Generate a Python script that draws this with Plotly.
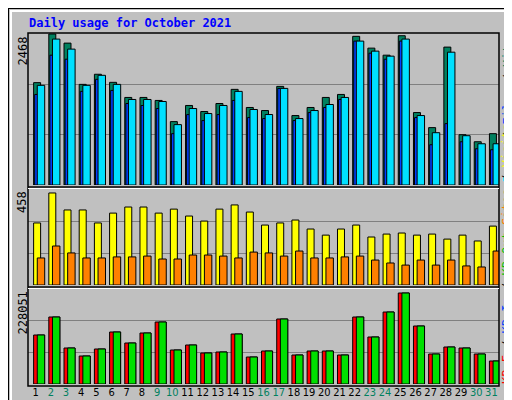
import plotly.graph_objects as go

days = list(range(1, 32))
weekend = [2, 3, 9, 10, 16, 17, 23, 24, 30, 31]
hits = [1673, 2468, 2319, 1645, 1810, 1678, 1431, 1431, 1382, 1036, 1300, 1201, 1332, 1563, 1267, 1217,
        1612, 1135, 1267, 1431, 1480, 2430, 2237, 2122, 2440, 1184, 938, 2254, 822, 707, 839]
files = [1629, 2385, 2221, 1629, 1793, 1645, 1398, 1398, 1365, 987, 1250, 1168, 1300, 1530, 1234, 1152,
         1579, 1086, 1217, 1316, 1431, 2352, 2188, 2106, 2385, 1135, 855, 2171, 806, 674, 674]
pages = [1480, 2122, 2056, 1530, 1727, 1546, 1332, 1300, 1250, 839, 1151, 1053, 1151, 1382, 1102, 1086,
         1579, 1053, 1184, 1267, 1398, 2352, 2155, 2056, 2352, 1102, 658, 1003, 707, 592, 576]
visits = [296, 439, 358, 358, 296, 343, 372, 372, 343, 362, 329, 305, 362, 382, 348, 286,
          296, 310, 267, 238, 267, 286, 229, 243, 248, 238, 243, 219, 238, 210, 281]
sites = [129, 186, 153, 129, 129, 134, 134, 138, 124, 124, 143, 143, 138, 129, 157, 153,
         138, 162, 129, 129, 134, 138, 119, 105, 95, 119, 95, 119, 91, 86, 162]
kbytes = [117600, 160800, 86400, 67200, 84000, 124800, 98400, 122400, 148800, 81600, 93600, 74400, 76800,
          120000, 64800, 79200, 156000, 69600, 79200, 79200, 69600, 160800, 112800, 172800, 218400,
          139200, 72000, 88800, 86400, 72000, 55200]
max_hits, max_visits, max_kb = 2468, 458, 228051

W, H = 512, 400
def py(p):
    return 1 - p / H

FONT = "DejaVu Sans Mono"
fig = go.Figure()
line = dict(color="black", width=1)

def bar(y, color, off, wid, ax):
    fig.add_trace(go.Bar(x=days, y=y, offset=off, width=wid, marker=dict(color=color, line=line),
                         xaxis="x", yaxis=ax, showlegend=False, hoverinfo="skip"))

bar(hits, "#00805F", -0.13, 0.46, "y")
bar(pages, "#0040FF", -0.06, 0.3, "y")
bar(files, "#00E0FF", 0.11, 0.49, "y")
bar(visits, "#FFFF00", -0.13, 0.46, "y2")
bar(sites, "#FF8000", 0.11, 0.49, "y2")
bar(kbytes, "#FF0000", -0.13, 0.72, "y3")
bar(kbytes, "#00E000", 0.11, 0.49, "y3")

ticktext = [f'<span style="color:{"#00805F" if d in weekend else "black"}">{d}</span>' for d in days]

def yax(top, bottom, mx, ext):
    return dict(domain=[py(bottom), py(top)], range=[0, mx * ext], showticklabels=False,
                tickvals=[mx / 3, 2 * mx / 3], gridcolor="#808080", gridwidth=1, zeroline=False,
                anchor="x", fixedrange=True, automargin=False)

fig.update_layout(
    width=W, height=H, margin=dict(l=0, r=0, t=0, b=0, autoexpand=False),
    paper_bgcolor="#C0C0C0", plot_bgcolor="#C0C0C0", barmode="overlay",
    font=dict(family=FONT, size=12, color="black"),
    xaxis=dict(domain=[20 / W, 491 / W], range=[0.5, 31.5], tickvals=days, ticktext=ticktext,
               showgrid=False, zeroline=False, ticks="", anchor="y3", tickangle=0, automargin=False,
               tickfont=dict(size=11, family="DejaVu Sans Condensed")),
    yaxis=yax(25, 177, max_hits, 151 / 150),
    yaxis2=yax(180, 277, max_visits, 97 / 96),
    yaxis3=yax(280, 376, max_kb, 96 / 95),
)

shapes = [
    dict(type="rect", xref="paper", yref="paper", x0=0, x1=1, y0=0, y1=1, line=dict(color="black", width=2)),
    dict(type="rect", xref="paper", yref="paper", x0=3 / W, x1=505 / W, y0=py(394), y1=py(3),
         line=dict(color="white", width=2)),
    dict(type="rect", xref="paper", yref="paper", x0=20 / W, x1=491 / W, y0=py(378), y1=py(25),
         line=dict(color="black", width=1.5)),
    dict(type="line", xref="paper", yref="paper", x0=20 / W, x1=491 / W, y0=py(179), y1=py(179),
         line=dict(color="black", width=1.5)),
    dict(type="line", xref="paper", yref="paper", x0=20 / W, x1=491 / W, y0=py(279), y1=py(279),
         line=dict(color="black", width=1.5)),
    dict(type="line", xref="paper", yref="paper", x0=20 / W, x1=491 / W, y0=py(180.5), y1=py(180.5),
         line=dict(color="white", width=1)),
    dict(type="line", xref="paper", yref="paper", x0=20 / W, x1=491 / W, y0=py(280.5), y1=py(280.5),
         line=dict(color="white", width=1)),
]
fig.update_layout(shapes=shapes)

ann = [
    dict(text="<b>Daily usage for October 2021</b>", x=19 / W, y=py(15), xanchor="left", yanchor="middle",
         font=dict(color="#0000FF", size=12)),
    dict(text=str(max_hits), x=14 / W, y=py(27), xanchor="center", yanchor="top", textangle=-90),
    dict(text=str(max_visits), x=14 / W, y=py(181), xanchor="center", yanchor="top", textangle=-90),
    dict(text=str(max_kb), x=14 / W, y=py(282), xanchor="center", yanchor="top", textangle=-90),
    dict(text='<span style="color:#00E0FF">Pages</span> / <span style="color:#0040FF">Files</span>'
              ' / <span style="color:#00805F">Hits</span>',
         x=499 / W, y=py(28), xanchor="center", yanchor="top", textangle=-90),
    dict(text='<span style="color:#FF0000">KB F</span> / <span style="color:#0040FF">KB In</span>'
              ' / <span style="color:#00C000">KB Out</span> <span style="color:#FF8000">Sites</span>'
              ' / <span style="color:#FFFF00">Visits</span>',
         x=499 / W, y=py(378), xanchor="center", yanchor="bottom", textangle=-90),
]
for a in ann:
    a.update(xref="paper", yref="paper", showarrow=False)
    a.setdefault("font", dict(size=12))
fig.update_layout(annotations=ann)

fig.write_html("out.html")
